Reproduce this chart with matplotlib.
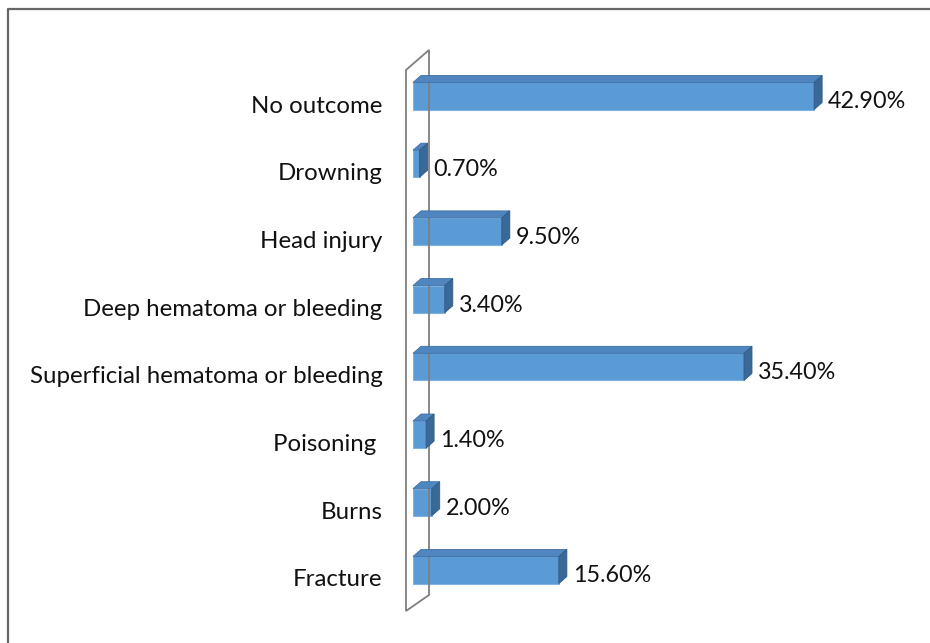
import matplotlib
matplotlib.use('Agg')
import matplotlib.pyplot as plt
from matplotlib.patches import Polygon
from matplotlib.lines import Line2D
from matplotlib.transforms import ScaledTranslation
import numpy as np

# 数据
categories = ['No outcome', 'Drowning', 'Head injury', 'Deep hematoma or bleeding',
              'Superficial hematoma or bleeding', 'Poisoning ', 'Burns', 'Fracture']
values = [42.9, 0.7, 9.5, 3.4, 35.4, 1.4, 2.0, 15.6]
value_labels = ['42.90%', '0.70%', '9.50%', '3.40%', '35.40%', '1.40%', '2.00%', '15.60%']

plt.rcParams['font.family'] = ['Lato', 'DejaVu Sans']

W, H = 930, 643
fig = plt.figure(figsize=(W / 100, H / 100), dpi=100)
fig.patch.set_facecolor('white')

# 坐标轴位置（像素换算）
x0_px, px_per_pct = 413, 9.35
xmax = 50
top_px, bot_px = 40, 610
ax = fig.add_axes([x0_px / W, 1 - bot_px / H, xmax * px_per_pct / W, (bot_px - top_px) / H])
spacing = 67.7
ax.set_xlim(0, xmax)
ax.set_ylim(7 + (bot_px - 570) / spacing, -(96 - top_px) / spacing)
for s in ax.spines.values():
    s.set_visible(False)
ax.set_xticks([])

y = np.arange(len(categories))
bh = 0.4
front = '#5b9bd5'
top_c = '#4f86c0'
side_c = '#3a6897'
ax.barh(y, values, height=bh, color=front, edgecolor='#7fb2e2', linewidth=0.8, zorder=3)

ax.set_yticks(y)
ax.set_yticklabels(categories, fontsize=17.3, color='#111111')
ax.tick_params(axis='y', length=0, pad=22)
# 标签略向下偏移
shift = ScaledTranslation(0, -0.08, fig.dpi_scale_trans)
for t in ax.get_yticklabels():
    t.set_transform(t.get_transform() + shift)

# 3D 深度效果（像素偏移）
dx, dy = 8, 7
fig.canvas.draw()
T = ax.transData
inv = fig.transFigure.inverted()

def to_fig(pts):
    return inv.transform(pts)

for yi, v, lab in zip(y, values, value_labels):
    (xl, yt), (xr, yb) = T.transform([(0, yi - bh / 2), (v, yi + bh / 2)])
    # 上表面 + 侧面
    topf = [(xl, yt), (xr, yt), (xr + dx, yt + dy), (xl + dx, yt + dy)]
    sidef = [(xr, yt), (xr + dx, yt + dy), (xr + dx, yb + dy), (xr, yb)]
    fig.patches.append(Polygon(to_fig(topf), closed=True, transform=fig.transFigure,
                               facecolor=top_c, edgecolor='#3d6fa3', linewidth=0.6, zorder=4))
    fig.patches.append(Polygon(to_fig(sidef), closed=True, transform=fig.transFigure,
                               facecolor=side_c, edgecolor='#2f5b88', linewidth=0.6, zorder=4))
    ax.annotate(lab, xy=(v, yi), xytext=(10, -4.3), textcoords='offset points',
                ha='left', va='center', fontsize=16.8, color='#111111', zorder=5)

# 背景墙
(wx, _), = T.transform([(0, 0)])
wall_pts_px = [(wx - 7, H - 70), (wx + 16, H - 50), (wx + 16, H - 595), (wx - 7, H - 611)]
wall = Polygon(to_fig(wall_pts_px), closed=True, transform=fig.transFigure,
               facecolor='none', edgecolor='#7f7f7f', linewidth=1.3, zorder=1)
fig.patches.append(wall)

# 外框
fig.lines.append(Line2D([8 / W, 8 / W, 1], [0, 1 - 9 / H, 1 - 9 / H], transform=fig.transFigure,
                        color='#666666', linewidth=1.6))

fig.savefig('out.png', dpi=100)
